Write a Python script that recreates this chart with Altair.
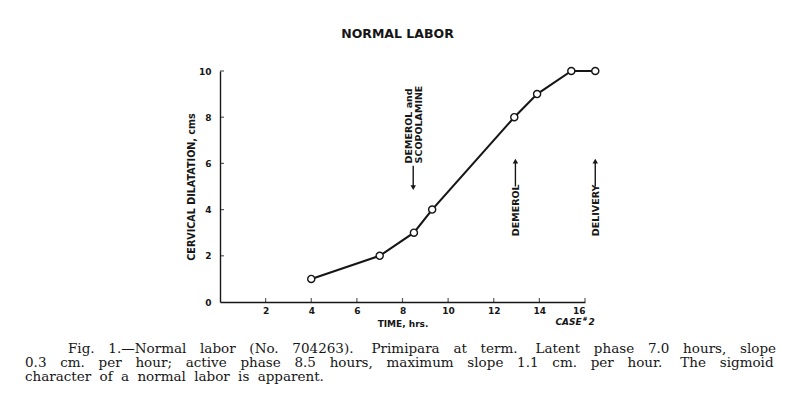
import altair as alt
import pandas as pd

# ---- data ----
time_hrs = [4.0, 7.0, 8.5, 9.3, 12.9, 13.9, 15.4, 16.45]
dilatation_cm = [1, 2, 3, 4, 8, 9, 10, 10]

x_ticks = [2, 4, 6, 8, 10, 12, 14, 16]
y_ticks = [0, 2, 4, 6, 8, 10]

event_labels = ["DEMEROL and\nSCOPOLAMINE", "DEMEROL", "DELIVERY"]
event_time = [8.47, 12.95, 16.45]
event_direction = ["down", "up", "up"]

NB = "\u00a0"
EN = "\u2002"
TS = "\u2009"
HS = "\u200a"
caption_lines = [
    "Fig. 1.\u2014Normal labor (No. 704263).  Primipara at term.  Latent phase 7.0 hours, slope",
    "0.3 cm. per hour; active phase 8.5 hours, maximum slope 1.1 cm. per hour.  The sigmoid",
    "character of a normal labor is apparent.",
]


def spread(s, fill):
    s = s.replace("  ", " " + NB)
    return s.replace(" ", " " + fill)


caption_text = [spread(caption_lines[0], EN + TS),
                spread(caption_lines[1], EN + TS),
                spread(caption_lines[2], TS + HS)]

INK = "#161616"
SANS = "DejaVu Sans"

df = pd.DataFrame({"t": time_hrs, "d": dilatation_cm})

xs = alt.Scale(domain=[0, 16], nice=False)
ys = alt.Scale(domain=[0, 10], nice=False)

X = alt.X("t:Q", scale=xs, axis=alt.Axis(
    values=x_ticks, title="TIME, hrs.", grid=False, ticks=False,
    labelFont=SANS, labelFontWeight="bold", labelFontSize=9, labelColor=INK,
    labelPadding=4,
    domainColor=INK, domainWidth=1.4,
    titleFont=SANS, titleFontWeight="bold", titleFontSize=9, titleColor=INK,
    titlePadding=4))
Y = alt.Y("d:Q", scale=ys, axis=alt.Axis(
    values=y_ticks, title="CERVICAL DILATATION, cms", grid=False, ticks=False,
    labelFont=SANS, labelFontWeight="bold", labelFontSize=9, labelColor=INK,
    labelPadding=9,
    domainColor=INK, domainWidth=1.4,
    titleFont=SANS, titleFontWeight="bold", titleFontSize=9.6, titleColor=INK,
    titlePadding=2))

base = alt.Chart(df)
line = base.mark_line(color=INK, strokeWidth=2.1, clip=False).encode(x=X, y=Y)
pts = base.mark_point(shape="circle", filled=True, fill="white", stroke=INK,
                      strokeWidth=1.4, size=50, opacity=1, clip=False).encode(x="t:Q", y="d:Q")

# inward axis ticks
xt = alt.Chart(pd.DataFrame({"t": x_ticks, "z": [0] * len(x_ticks)})).mark_tick(
    orient="vertical", color=INK, thickness=1.2, size=4, yOffset=-2).encode(
    x=alt.X("t:Q", scale=xs), y=alt.Y("z:Q", scale=ys))
yt = alt.Chart(pd.DataFrame({"d": y_ticks[1:], "z": [0] * (len(y_ticks) - 1)})).mark_tick(
    orient="horizontal", color=INK, thickness=1.2, size=4, xOffset=2).encode(
    x=alt.X("z:Q", scale=xs), y=alt.Y("d:Q", scale=ys))

# ---- event annotations (arrows + rotated labels) ----
ev = pd.DataFrame({"t": event_time, "label": event_labels, "dir": event_direction})
ev["a0"] = [5.9, 5.0, 5.0]      # arrow tail (dilatation units)
ev["a1"] = [4.95, 6.1, 6.1]     # arrow head
ev["txt"] = [6.0, 2.85, 2.85]   # where the rotated label starts
ev["tx"] = [8.28, 12.98, 16.48]

evc = alt.Chart(ev)
shaft = evc.mark_rule(color=INK, strokeWidth=1.4).encode(
    x=alt.X("t:Q", scale=xs), y=alt.Y("a0:Q", scale=ys), y2="a1:Q")
head_up = evc.transform_filter("datum.dir == 'up'").mark_point(
    shape="triangle-up", filled=True, color=INK, size=30, opacity=1).encode(
    x=alt.X("t:Q", scale=xs), y=alt.Y("a1:Q", scale=ys))
head_dn = evc.transform_filter("datum.dir == 'down'").mark_point(
    shape="triangle-down", filled=True, color=INK, size=30, opacity=1).encode(
    x=alt.X("t:Q", scale=xs), y=alt.Y("a1:Q", scale=ys))
ev_text = evc.mark_text(angle=270, align="left", baseline="middle", lineBreak="\n",
                        lineHeight=10, font=SANS, fontWeight="bold", fontSize=9.5,
                        color=INK).encode(
    x=alt.X("tx:Q", scale=xs), y=alt.Y("txt:Q", scale=ys), text="label:N")

# ---- case label ----
case = alt.Chart(pd.DataFrame({"t": [15.85], "s": ["CASE"]})).mark_text(
    align="right", baseline="middle", font=SANS, fontStyle="italic", fontWeight="bold",
    fontSize=9, color=INK).encode(x=alt.X("t:Q", scale=xs), y=alt.value(251), text="s:N")
case_num = alt.Chart(pd.DataFrame({"t": [15.85], "s": ["#"]})).mark_text(
    align="left", baseline="middle", font=SANS, fontStyle="italic", fontWeight="bold",
    fontSize=6, color=INK, dx=1).encode(x=alt.X("t:Q", scale=xs), y=alt.value(248), text="s:N")
case_n2 = alt.Chart(pd.DataFrame({"t": [15.85], "s": ["2"]})).mark_text(
    align="left", baseline="middle", font=SANS, fontStyle="italic", fontWeight="bold",
    fontSize=9, color=INK, dx=7).encode(x=alt.X("t:Q", scale=xs), y=alt.value(251), text="s:N")

# ---- caption ----
cap = pd.DataFrame({"line": caption_text})
cap["px"] = [-152, -195, -195]
cap["py"] = [278, 292, 306]
caption = alt.Chart(cap).mark_text(align="left", baseline="middle", font="DejaVu Serif",
                                   fontSize=13.5, color=INK).encode(
    x=alt.X("px:Q", scale=None), y=alt.Y("py:Q", scale=None), text="line:N")

chart = alt.layer(line, xt, yt, pts, shaft, head_up, head_dn, ev_text, case, case_num,
                  case_n2, caption).properties(
    width=365, height=231,
    title=alt.TitleParams("NORMAL LABOR", anchor="middle", font=SANS, fontWeight="bold",
                          fontSize=12.5, color=INK, offset=24, dx=-5),
    autosize=alt.AutoSizeParams(type="none"),
    padding={"left": 212, "top": 63, "right": 207, "bottom": 90},
    background="white",
).configure_view(stroke=None)

chart.save("out.html", embed_options={"renderer": "svg", "actions": False})
